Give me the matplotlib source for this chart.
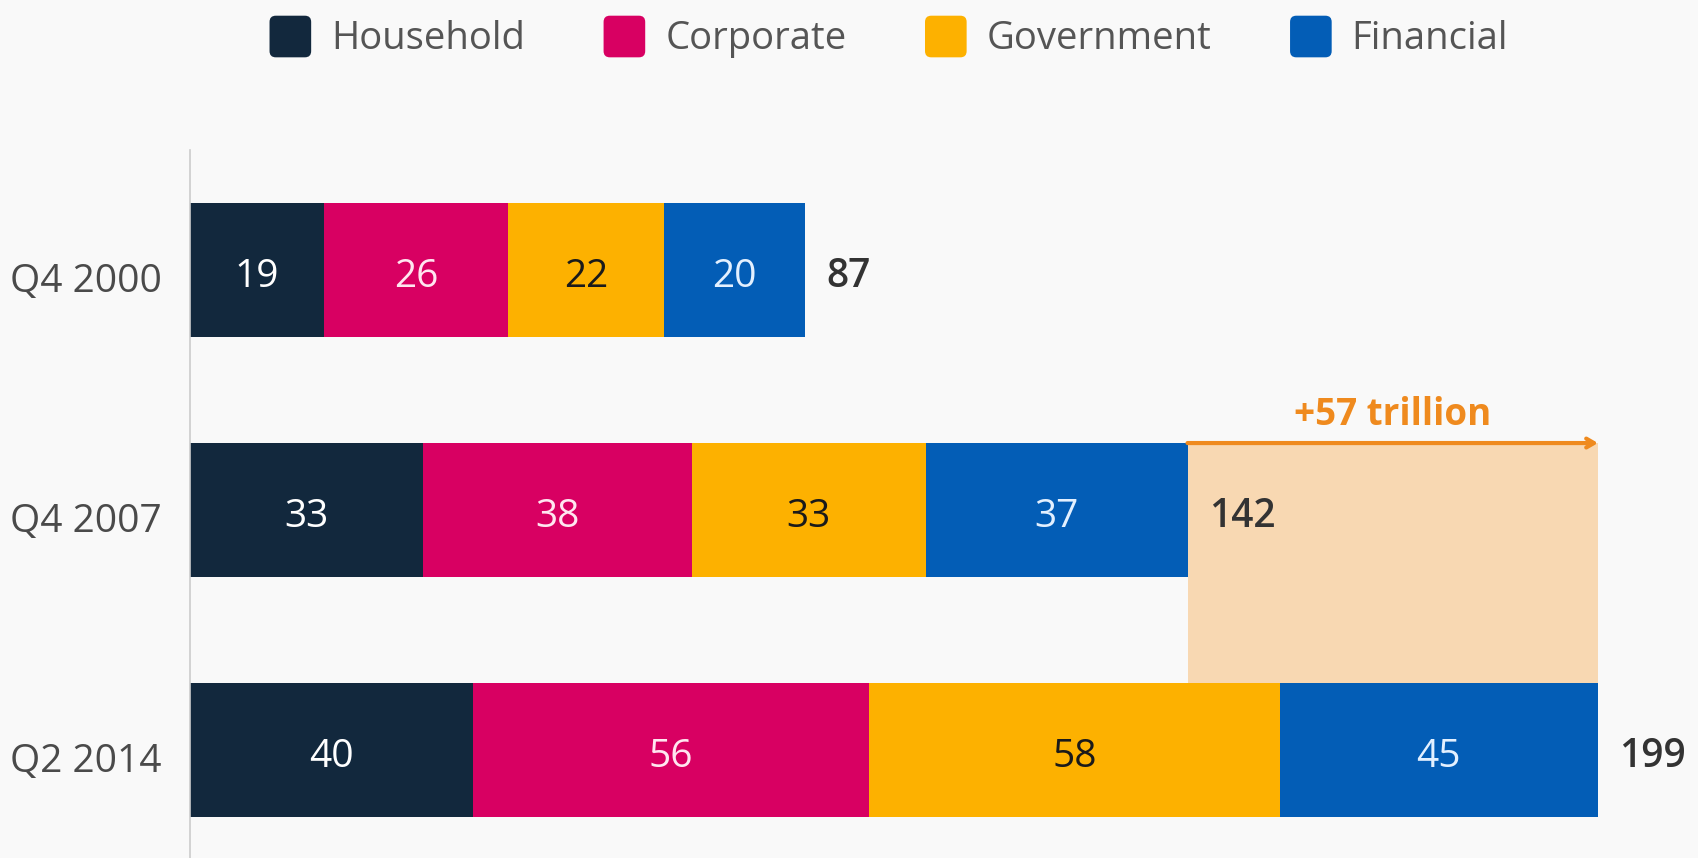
import matplotlib
matplotlib.use("Agg")
import matplotlib.pyplot as plt
from matplotlib.patches import Patch, FancyBboxPatch
from matplotlib.legend_handler import HandlerBase

plt.rcParams['font.family'] = ['Open Sans', 'DejaVu Sans']

# Global debt by sector, trillions of US$
periods = ["Q4 2000", "Q4 2007", "Q2 2014"]
sectors = ["Household", "Corporate", "Government", "Financial"]
household = [19, 33, 40]
corporate = [26, 38, 56]
government = [22, 33, 58]
financial = [20, 37, 45]
totals = [87, 142, 199]
increase_label = "+57 trillion"

colors = ["#12283D", "#D80062", "#FDB100", "#035DB6"]
text_colors = ["#FFFFFF", "#FFE6F0", "#1A1A1A", "#E3F0FF"]
bg = "#F9F9F9"
orange = "#EF8A1E"
peach = "#F8D8B2"


class RoundedSquare(HandlerBase):
    def create_artists(self, legend, orig_handle, xdescent, ydescent,
                       width, height, fontsize, trans):
        s = min(width, height)
        p = FancyBboxPatch((-xdescent + (width - s) / 2, -ydescent + (height - s) / 2),
                           s, s, boxstyle="round,pad=0,rounding_size=%f" % (s * 0.15),
                           facecolor=orig_handle.get_facecolor(),
                           edgecolor="none", transform=trans)
        return [p]


W, H, DPI = 1699, 858, 100
fig = plt.figure(figsize=(W / DPI, H / DPI), dpi=DPI, facecolor=bg)

ax_left, ax_right = 189.6, 1598.0
ax_top, ax_bottom = 150.0, 858.0
ax = fig.add_axes([ax_left / W, 1 - ax_bottom / H,
                   (ax_right - ax_left) / W, (ax_bottom - ax_top) / H])
ax.set_facecolor(bg)

ypos = list(range(len(periods)))
bar_h = 0.558
dy = 0.03
fs = 28
series = [household, corporate, government, financial]

left = [0] * len(periods)
for vals, c, tc in zip(series, colors, text_colors):
    ax.barh(ypos, vals, left=left, height=bar_h, color=c, zorder=2)
    for y, v, l in zip(ypos, vals, left):
        ax.text(l + v / 2, y + dy, str(v), ha="center", va="center",
                fontsize=fs, color=tc, zorder=3)
    left = [l + v for l, v in zip(left, vals)]
bar_ends = left

# Shaded growth area between the 2007 and 2014 bar ends
top2007 = ypos[1] - bar_h / 2
top2014 = ypos[2] - bar_h / 2
ax.barh((top2007 + top2014) / 2, bar_ends[2] - bar_ends[1], left=bar_ends[1],
        height=top2014 - top2007, color=peach, zorder=1)

for y, e, t in zip(ypos, bar_ends, totals):
    ax.text(e + 3.0, y + dy, str(t), ha="left", va="center", fontsize=fs,
            fontweight="semibold", color="#333333", zorder=3)

# Growth arrow and label
ax.annotate("", xy=(bar_ends[2], top2007), xytext=(bar_ends[1], top2007),
            arrowprops=dict(arrowstyle="->,head_length=0.55,head_width=0.32",
                            color=orange, lw=3, shrinkA=0, shrinkB=0),
            zorder=4)
ax.text((bar_ends[1] + bar_ends[2]) / 2, top2007 - 0.115, increase_label,
        ha="center", va="center", fontsize=26.5, fontweight="bold", color=orange)

ax.set_xlim(0, bar_ends[2])
ax.set_ylim(2.45, -0.5)
ax.set_yticks([y + dy for y in ypos])
ax.set_yticklabels(periods, fontsize=fs, color="#4A4A4A")
ax.tick_params(axis="y", length=0, pad=20)
ax.set_xticks([])
for s in ["top", "right", "bottom"]:
    ax.spines[s].set_visible(False)
ax.spines["left"].set_color("#CCCCCC")
ax.spines["left"].set_linewidth(1.2)

handles = [Patch(facecolor=c) for c in colors]
fig.legend(handles, sectors, loc="center", bbox_to_anchor=(0.522, 1 - 37 / H),
           ncol=4, frameon=False, fontsize=27.5, labelcolor="#555555",
           handletextpad=0.42, columnspacing=1.95, handlelength=1.3,
           handleheight=1.3, handler_map={Patch: RoundedSquare()})

fig.savefig("out.png", dpi=DPI, facecolor=bg)
